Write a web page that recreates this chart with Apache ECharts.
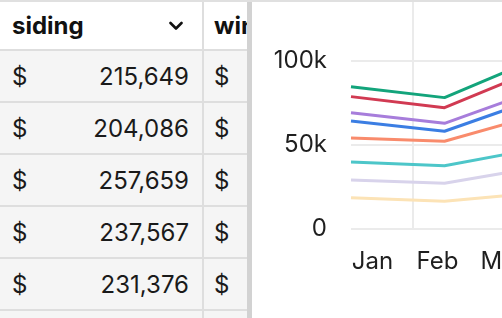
<!DOCTYPE html>
<html>
<head>
<meta charset="utf-8">
<script src="https://cdn.jsdelivr.net/npm/echarts@6/dist/echarts.min.js"></script>
<style>
  html, body { margin:0; padding:0; width:502px; height:318px; overflow:hidden; background:#fff; font-family:Inter, "Noto Sans", sans-serif; }
  #topbar { position:absolute; left:0; top:0; width:502px; height:2px; background:#e0e0e0; z-index:5; }
  #table { position:absolute; left:0; top:2px; width:247px; height:316px; overflow:hidden; }
  .row { display:flex; height:50px; background:#f5f5f5; border-bottom:2px solid #dedede; box-sizing:content-box; }
  .row.header { height:47px; background:#fff; }
  .cell { box-sizing:border-box; display:flex; align-items:center; font-size:24px; color:#1a1a1a; white-space:nowrap; }
  .c1 { width:204px; flex:none; border-right:2px solid #dedede; padding:0 13px 0 12px; justify-content:space-between; }
  .c2 { width:220px; flex:none; padding:0 12px 0 10px; }
  .header .cell { font-weight:700; color:#111; }
  #divider { position:absolute; left:247px; top:0; width:5px; height:318px; background:#d2d2d2; z-index:4; }
  #chart { position:absolute; left:252px; top:0; width:400px; height:318px; }
</style>
</head>
<body>
<div id="topbar"></div>
<div id="table"></div>
<div id="divider"></div>
<div id="chart"></div>
<script>
// ---- data ----
const columnHeaders = ['siding', 'windows'];
const sidingValues = [215649, 204086, 257659, 237567, 231376];

const months = ['Jan', 'Feb', 'Mar'];
const yTicks = [0, 50000, 100000];

const seriesNames = ['A', 'B', 'C', 'D', 'E', 'F', 'G', 'H'];
const greenValues    = [84700, 78200, 101700];
const redValues      = [78800, 72200, 95100];
const purpleValues   = [69200, 62900, 82800];
const blueValues     = [64300, 58200, 77700];
const orangeValues   = [54200, 52200, 67900];
const tealValues     = [39900, 37700, 48000];
const lavenderValues = [29200, 27200, 36800];
const yellowValues   = [18600, 16500, 21600];

const lineColors = ['#13a47b', '#d13a52', '#a77ddb', '#3b7ee3', '#f98b6c', '#4dc6c9', '#d8d3eb', '#fce3b6'];
const allValues = [greenValues, redValues, purpleValues, blueValues, orangeValues, tealValues, lavenderValues, yellowValues];

// ---- table ----
const table = document.getElementById('table');
const chevron = '<svg width="14" height="10" viewBox="0 0 14 10" style="margin-right:6px"><polyline points="1.5,2 7,7.5 12.5,2" fill="none" stroke="#111" stroke-width="2.6" stroke-linecap="round" stroke-linejoin="round"/></svg>';
let html = '<div class="row header"><div class="cell c1"><span>' + columnHeaders[0] + '</span>' + chevron +
  '</div><div class="cell c2"><span>' + columnHeaders[1] + '</span></div></div>';
const fmt = v => v.toLocaleString('en-US');
sidingValues.forEach(v => {
  html += '<div class="row"><div class="cell c1"><span>$</span><span>' + fmt(v) + '</span></div><div class="cell c2"><span>$</span></div></div>';
});
html += '<div class="row"><div class="cell c1"></div><div class="cell c2"></div></div>';
table.innerHTML = html;

// ---- chart ----
const chart = echarts.init(document.getElementById('chart'), null, { renderer: 'canvas' });
const gridColor = '#ebebeb';
const labelFont = { fontSize: 24, fontFamily: 'Inter', color: '#1f1f1f' };
const hiddenAxis = { axisLine: { show: false }, axisTick: { show: false }, axisLabel: { show: false }, splitLine: { show: false } };
chart.setOption({
  animation: false,
  grid: [
    { left: 99, top: 61, width: 187, height: 168 },   // lines
    { left: 88, top: 2, width: 195, height: 227 },    // month labels
    { left: 161, top: 2, width: 100, height: 227 }    // vertical grid line
  ],
  xAxis: [
    Object.assign({ gridIndex: 0, type: 'category', data: months, boundaryGap: false }, hiddenAxis),
    { gridIndex: 1, type: 'category', data: months, boundaryGap: true,
      axisLine: { show: false }, axisTick: { show: false },
      axisLabel: Object.assign({ margin: 21, interval: 0 }, labelFont),
      splitLine: { show: false } },
    { gridIndex: 2, type: 'category', data: ['a', 'b'], boundaryGap: true,
      axisLine: { show: false }, axisTick: { show: false }, axisLabel: { show: false },
      splitLine: { show: true, interval: (i) => i === 1, lineStyle: { color: gridColor, width: 2 } } }
  ],
  yAxis: [
    { gridIndex: 0, type: 'value', min: yTicks[0], max: yTicks[yTicks.length - 1], interval: yTicks[1] - yTicks[0],
      axisLine: { show: false }, axisTick: { show: false },
      axisLabel: Object.assign({ margin: 24, formatter: v => v === 0 ? '0' : (v / 1000) + 'k' }, labelFont),
      splitLine: { lineStyle: { color: gridColor, width: 2 } } },
    Object.assign({ gridIndex: 1, type: 'value' }, hiddenAxis),
    Object.assign({ gridIndex: 2, type: 'value' }, hiddenAxis)
  ],
  series: allValues.map((vals, i) => ({
    name: seriesNames[i], type: 'line', xAxisIndex: 0, yAxisIndex: 0,
    data: vals, showSymbol: false, clip: false,
    lineStyle: { color: lineColors[i], width: 3 }, itemStyle: { color: lineColors[i] },
    z: 10 - i
  }))
});
</script>
</body>
</html>
